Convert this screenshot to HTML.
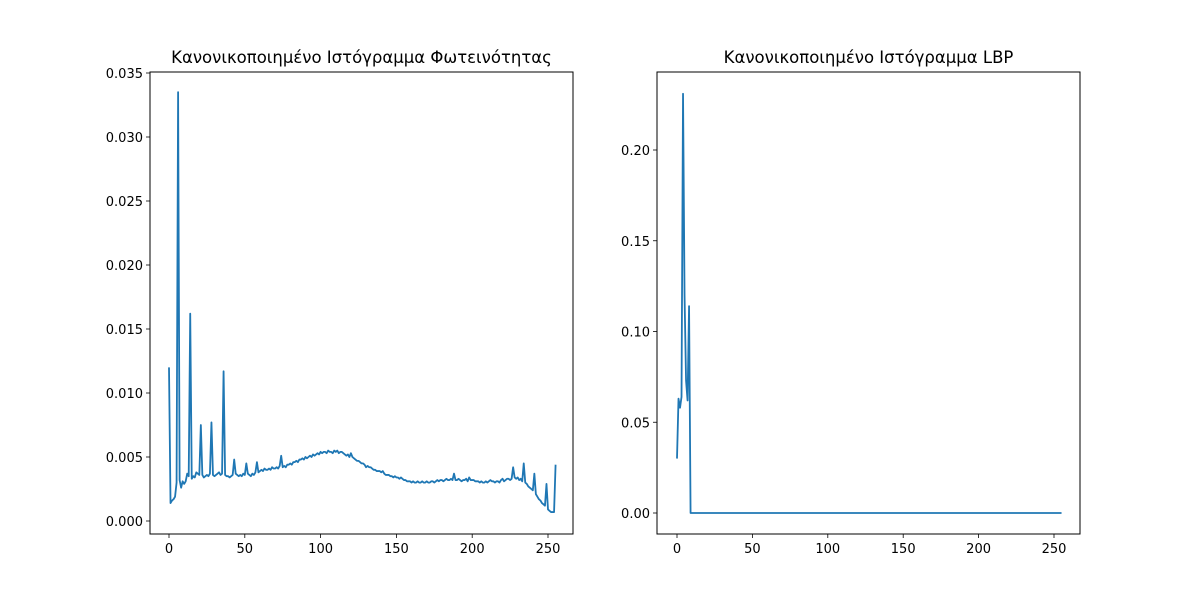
<!DOCTYPE html>
<html><head><meta charset="utf-8"><style>
body{margin:0;background:#fff;}
svg{display:block;font-family:"DejaVu Sans","Liberation Sans",sans-serif;}
</style></head><body>
<svg id="fig" width="1200" height="600" viewBox="0 0 1200 600" xmlns="http://www.w3.org/2000/svg">
<rect width="1200" height="600" fill="#fff"/>
<g id="left"></g>
<g id="right"></g>
</svg>
<script>
const intensityValues = [
0.0120,0.0014,0.0016,0.0017,0.0019,0.0030,0.0335,0.0032,0.0026,0.0031,
0.0029,0.0031,0.0037,0.0035,0.0162,0.0033,0.0035,0.0034,0.0038,0.0037,
0.0036,0.0075,0.0036,0.0034,0.0035,0.0036,0.0035,0.0037,0.0077,0.0036,
0.0035,0.0036,0.0037,0.0038,0.0036,0.0037,0.0117,0.0036,0.0035,0.0035,
0.0034,0.0035,0.0036,0.0048,0.0037,0.0036,0.0035,0.0036,0.0035,0.0037,
0.0036,0.0045,0.0037,0.0036,0.0035,0.0037,0.0036,0.0038,0.0046,0.0038,
0.0039,0.0040,0.0039,0.0041,0.0040,0.0040,0.0041,0.0040,0.0042,0.0041,
0.0041,0.0042,0.0041,0.0043,0.0051,0.0042,0.0043,0.0042,0.0044,0.0044,
0.0045,0.0044,0.0046,0.0046,0.0047,0.0046,0.0048,0.0048,0.0049,0.0048,
0.0050,0.0049,0.0050,0.0051,0.0050,0.0052,0.0051,0.0052,0.0053,0.0052,
0.0054,0.0053,0.0054,0.0054,0.0053,0.0055,0.0054,0.0054,0.0053,0.0055,
0.0054,0.0055,0.0053,0.0054,0.0054,0.0053,0.0052,0.0051,0.0052,0.0050,
0.0053,0.0050,0.0049,0.0048,0.0047,0.0047,0.0046,0.0045,0.0045,0.0044,
0.0042,0.0043,0.0042,0.0042,0.0041,0.0040,0.0040,0.0039,0.0039,0.0039,
0.0038,0.0039,0.0037,0.0036,0.0036,0.0036,0.0035,0.0035,0.0034,0.0035,
0.0034,0.0034,0.0033,0.0034,0.0033,0.0032,0.0032,0.0031,0.0031,0.0031,
0.0030,0.0031,0.0030,0.0030,0.0031,0.0030,0.0030,0.0031,0.0030,0.0030,
0.0031,0.0030,0.0030,0.0031,0.0031,0.0030,0.0031,0.0032,0.0031,0.0032,
0.0032,0.0031,0.0032,0.0033,0.0032,0.0032,0.0033,0.0032,0.0037,0.0032,
0.0032,0.0033,0.0032,0.0031,0.0032,0.0032,0.0033,0.0031,0.0034,0.0032,
0.0032,0.0032,0.0031,0.0031,0.0031,0.0030,0.0031,0.0030,0.0030,0.0031,
0.0030,0.0031,0.0032,0.0031,0.0031,0.0030,0.0031,0.0031,0.0030,0.0032,
0.0033,0.0031,0.0032,0.0033,0.0033,0.0032,0.0033,0.0042,0.0034,0.0033,
0.0034,0.0032,0.0033,0.0031,0.0045,0.0030,0.0029,0.0027,0.0026,0.0025,
0.0024,0.0037,0.0021,0.0019,0.0017,0.0016,0.0014,0.0013,0.0012,0.0029,
0.0009,0.0008,0.0007,0.0007,0.0007,0.0044];
const lbpNonZero = [0.030,0.063,0.058,0.064,0.231,0.120,0.073,0.062,0.114];
const lbpValues = [];
for (let i=0;i<256;i++) lbpValues.push(i<lbpNonZero.length?lbpNonZero[i]:0);
const xTicks = [0,50,100,150,200,250];
const leftYTicks = [0.000,0.005,0.010,0.015,0.020,0.025,0.030,0.035];
const rightYTicks = [0.00,0.05,0.10,0.15,0.20];
const NS='http://www.w3.org/2000/svg';

function el(tag, attrs, parent){
  const e=document.createElementNS(NS,tag);
  for(const k in attrs) e.setAttribute(k,attrs[k]);
  parent.appendChild(e); return e;
}

function drawChart(g, box, values, xDom, yDom, yTicks, yDec, title){
  const sx=v=>box.x0+(v-xDom[0])/(xDom[1]-xDom[0])*(box.x1-box.x0);
  const sy=v=>box.y1-(v-yDom[0])/(yDom[1]-yDom[0])*(box.y1-box.y0);
  const t=el('text',{x:(box.x0+box.x1)/2,y:box.y0-9,'text-anchor':'middle','font-size':'16.5px',fill:'#000'},g);
  
  
  t.textContent=title;
  let d='';
  values.forEach((v,i)=>{d+=(i?'L':'M')+sx(i).toFixed(2)+' '+sy(v).toFixed(2);});
  const p=el('path',{d:d,fill:'none',stroke:'#1f77b4','stroke-width':'1.8','stroke-linejoin':'round'},g);
  
  
  const r=el('rect',{x:box.x0,y:box.y0,width:box.x1-box.x0,height:box.y1-box.y0,fill:'none',stroke:'#000','stroke-width':'1'},g);
  
  
  xTicks.forEach(v=>{
    const x=sx(v);
    const l=el('line',{x1:x,y1:box.y1,x2:x,y2:box.y1+4,stroke:'#000','stroke-width':'0.8'},g);
    
    
    const tx=el('text',{x:x,y:box.y1+19,'text-anchor':'middle','font-size':'13px',fill:'#000'},g);
    
    
    tx.textContent=String(v);
  });
  yTicks.forEach(v=>{
    const y=sy(v);
    const l=el('line',{x1:box.x0-4,y1:y,x2:box.x0,y2:y,stroke:'#000','stroke-width':'0.8'},g);
    
    
    const tx=el('text',{x:box.x0-7,y:y+5,'text-anchor':'end','font-size':'13px',fill:'#000'},g);
    
    
    tx.textContent=v.toFixed(yDec);
  });
}
const L={x0:150,x1:573,y0:72,y1:534};
const lxd=[ (150-169)/1.516, (573-169)/1.516 ];
const lyd=[ -(534-521)/12800, (521-72)/12800 ];
drawChart(document.getElementById('left'),L,intensityValues,lxd,lyd,leftYTicks,3,'Κανονικοποιημένο Ιστόγραμμα Φωτεινότητας');
const R={x0:657,x1:1080,y0:72,y1:534};
const rxs=(1054-677)/250;
const rxd=[ (657-677)/rxs, (1080-677)/rxs ];
const rys=(513-150)/0.20;
const ryd=[ -(534-513)/rys, (513-72)/rys ];
drawChart(document.getElementById('right'),R,lbpValues,rxd,ryd,rightYTicks,2,'Κανονικοποιημένο Ιστόγραμμα LBP');
</script>
</body></html>
